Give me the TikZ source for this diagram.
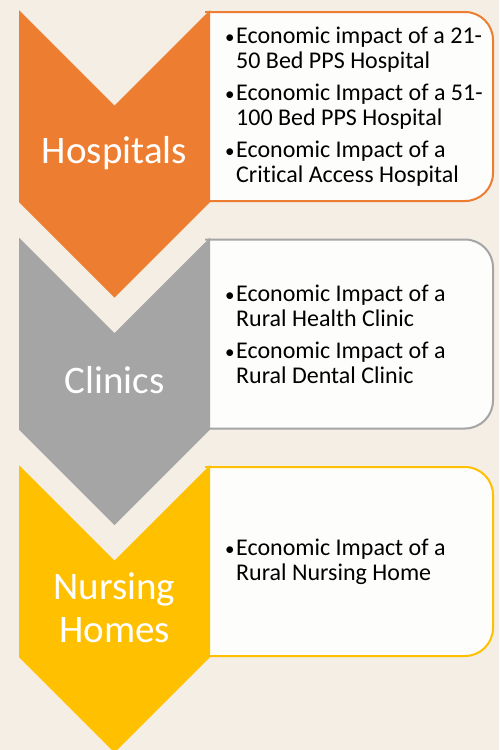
\documentclass[tikz,border=0pt]{standalone}
\usepackage{fontspec}
\setmainfont[Ligatures={NoCommon,NoContextual}]{Carlito}
\definecolor{paper}{HTML}{F4EEE4}
\definecolor{hosp}{HTML}{ED7D31}
\definecolor{clin}{HTML}{A5A5A5}
\definecolor{nurs}{HTML}{FFC000}
\definecolor{boxfill}{HTML}{FDFDFC}
\newcommand{\itm}[2]{\makebox[11pt][l]{\fontsize{19}{19}\selectfont\textbullet}#1\\\hspace*{11pt}#2}
\begin{document}
\begin{tikzpicture}[x=1pt, y=-1pt,
    chevtext/.style={text=white, font=\fontsize{39}{43}\selectfont, align=center, inner sep=0pt},
    itemtext/.style={anchor=west, align=left, font=\fontsize{24}{25}\selectfont, inner sep=0pt}]
    \fill[paper] (0,0) rectangle (499,750);
    \clip (0,0) rectangle (499,750);
    % one row: list box behind, chevron in front
    \foreach \c/\y [count=\i] in {hosp/10, clin/237.5, nurs/465} {
        \draw[\c, line width=2pt, fill=boxfill, rounded corners=28pt] (205,\y+2) -- (493,\y+2) -- (493,\y+191) -- (205,\y+191);
        \fill[\c] (19,\y) -- (114.5,\y+95.5) -- (210,\y) -- (210,\y+192) -- (114.5,\y+287.5) -- (19,\y+192) -- cycle;
        \coordinate (mid\i) at (114.5,\y+143);
        \coordinate (txt\i) at (225,\y+97);
    }
    \node[chevtext] (hospitals) at (mid1) {Hospitals};
    \node[chevtext] (clinics) at (mid2) {Clinics};
    \node[chevtext] (nursing) at (mid3) {Nursing\\Homes};
    \node[itemtext] (hosplist) at (txt1) {\itm{Economic impact of a 21-}{50 Bed PPS Hospital}\\[7pt]
        \itm{Economic Impact of a 51-}{100 Bed PPS Hospital}\\[7pt]
        \itm{Economic Impact of a}{Critical Access Hospital}};
    \node[itemtext] (clinlist) at (txt2) {\itm{Economic Impact of a}{Rural Health Clinic}\\[7pt]
        \itm{Economic Impact of a}{Rural Dental Clinic}};
    \node[itemtext] (nurslist) at (txt3) {\itm{Economic Impact of a}{Rural Nursing Home}};
\end{tikzpicture}
\end{document}
